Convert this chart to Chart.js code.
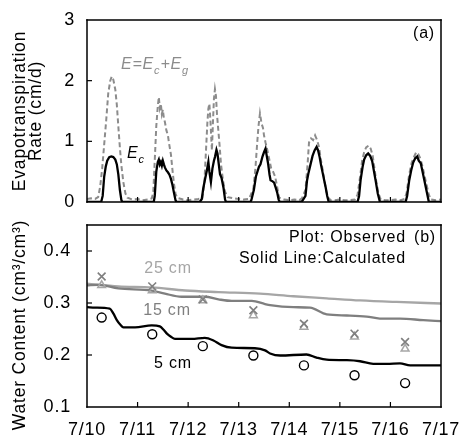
<!DOCTYPE html>
<html><head><meta charset="utf-8">
<script src="https://cdn.jsdelivr.net/npm/chart.js@4.4.1/dist/chart.umd.min.js"></script>
<style>
html,body{margin:0;padding:0;background:#fff;}
#wrap{position:relative;width:459px;height:443px;overflow:hidden;background:#fff;}
canvas{position:absolute;left:0;}
#c1{top:0;} #c2{top:215px;}
</style></head><body>
<div id="wrap"><canvas id="c1" width="459" height="215"></canvas><canvas id="c2" width="459" height="228"></canvas></div>
<script>
// ---------- data ----------
const dateLabels = ['7/10','7/11','7/12','7/13','7/14','7/15','7/16','7/17'];
const dayTicks = [0,1,2,3,4,5,6,7];
const etTicks = [0,1,2,3];
const wcTicks = [0.1,0.2,0.3,0.4];

// E = Ec + Eg  [day offset from 7/10 0:00, cm/d]
const etTotal = [[0.00,0.05],[0.08,0.06],[0.16,0.05],[0.22,0.08],[0.26,0.25],[0.30,0.55],[0.34,0.95],[0.38,1.35],[0.42,1.79],[0.46,2.00],[0.49,2.07],[0.52,2.02],[0.56,1.85],[0.59,1.60],[0.62,1.24],[0.65,0.90],[0.68,0.60],[0.72,0.32],[0.76,0.14],[0.80,0.07],[0.90,0.04],[1.00,0.05],[1.10,0.03],[1.20,0.04],[1.28,0.06],
[1.31,0.15],[1.34,0.69],[1.37,1.25],[1.40,1.58],[1.42,1.73],[1.44,1.55],[1.46,1.62],[1.48,1.45],[1.50,1.52],[1.52,1.38],[1.54,1.32],[1.57,1.18],[1.60,1.10],[1.62,0.98],[1.64,0.88],[1.66,0.78],[1.69,0.53],[1.72,0.30],[1.75,0.14],[1.78,0.07],[1.90,0.04],[2.00,0.03],[2.10,0.04],[2.20,0.05],
[2.28,0.06],[2.32,0.30],[2.35,0.80],[2.38,1.30],[2.40,1.54],[2.42,1.62],[2.44,1.35],[2.47,0.85],[2.49,1.30],[2.51,1.70],[2.53,1.86],[2.55,1.75],[2.57,1.45],[2.60,1.15],[2.62,0.95],[2.65,0.62],[2.69,0.35],[2.73,0.17],[2.78,0.08],[2.90,0.06],[3.00,0.05],[3.10,0.04],[3.20,0.05],
[3.24,0.12],[3.29,0.22],[3.33,0.55],[3.36,0.91],[3.39,1.24],[3.42,1.46],[3.45,1.30],[3.48,1.22],[3.50,1.10],[3.53,0.98],[3.56,0.88],[3.60,0.72],[3.64,0.56],[3.68,0.50],[3.72,0.42],[3.76,0.25],[3.80,0.07],[3.90,0.04],[4.00,0.03],[4.10,0.04],[4.20,0.03],
[4.25,0.06],[4.32,0.20],[4.36,0.60],[4.39,0.98],[4.43,1.05],[4.47,1.02],[4.51,1.10],[4.55,1.02],[4.59,0.90],[4.62,0.72],[4.65,0.58],[4.69,0.38],[4.73,0.18],[4.77,0.07],[4.82,0.03],[4.90,0.03],[5.00,0.04],[5.10,0.03],[5.20,0.03],[5.30,0.04],
[5.35,0.12],[5.40,0.42],[5.44,0.68],[5.48,0.82],[5.52,0.90],[5.57,0.93],[5.61,0.88],[5.65,0.76],[5.69,0.52],[5.72,0.34],[5.76,0.15],[5.81,0.04],[5.90,0.03],[6.00,0.03],[6.10,0.04],[6.20,0.03],[6.28,0.05],
[6.32,0.15],[6.37,0.45],[6.42,0.65],[6.47,0.75],[6.51,0.82],[6.55,0.79],[6.59,0.72],[6.63,0.60],[6.67,0.45],[6.71,0.30],[6.76,0.12],[6.80,0.04],[6.90,0.03],[7.00,0.04]];

// Ec (canopy transpiration)
const etCanopy = [[0.00,0],[0.28,0],[0.31,0.10],[0.34,0.42],[0.37,0.58],[0.40,0.68],[0.44,0.74],[0.48,0.75],[0.52,0.74],[0.56,0.70],[0.59,0.62],[0.62,0.45],[0.65,0.20],[0.68,0.03],[0.70,0],[1.32,0],
[1.34,0.10],[1.37,0.50],[1.40,0.66],[1.42,0.70],[1.44,0.62],[1.46,0.66],[1.48,0.60],[1.50,0.68],[1.52,0.62],[1.54,0.57],[1.57,0.52],[1.60,0.49],[1.63,0.45],[1.66,0.38],[1.69,0.28],[1.72,0.15],[1.75,0.03],[1.77,0],[2.23,0],
[2.27,0.05],[2.30,0.23],[2.34,0.40],[2.37,0.52],[2.40,0.66],[2.42,0.50],[2.45,0.33],[2.48,0.55],[2.51,0.68],[2.53,0.74],[2.56,0.86],[2.58,0.80],[2.60,0.66],[2.63,0.46],[2.66,0.40],[2.70,0.23],[2.73,0.04],[2.75,0],[3.23,0],
[3.25,0.03],[3.30,0.20],[3.34,0.42],[3.37,0.50],[3.40,0.58],[3.43,0.62],[3.47,0.75],[3.50,0.82],[3.53,0.88],[3.55,0.78],[3.58,0.64],[3.61,0.45],[3.63,0.36],[3.67,0.34],[3.70,0.32],[3.73,0.24],[3.76,0.16],[3.79,0.04],[3.81,0],[4.23,0],
[4.26,0.02],[4.32,0.10],[4.35,0.35],[4.38,0.48],[4.42,0.62],[4.46,0.76],[4.50,0.85],[4.54,0.91],[4.57,0.85],[4.60,0.74],[4.63,0.60],[4.66,0.48],[4.69,0.36],[4.72,0.24],[4.75,0.10],[4.78,0],[5.35,0],
[5.38,0.10],[5.41,0.36],[5.45,0.58],[5.48,0.70],[5.52,0.77],[5.56,0.80],[5.60,0.76],[5.64,0.67],[5.68,0.48],[5.71,0.34],[5.75,0.14],[5.79,0.01],[5.80,0],[6.30,0],
[6.33,0.10],[6.37,0.35],[6.41,0.52],[6.45,0.65],[6.49,0.72],[6.53,0.75],[6.56,0.68],[6.60,0.64],[6.64,0.48],[6.68,0.32],[6.72,0.16],[6.76,0],[7.00,0]];

// Calculated water content
const calc5 = [[0.00,0.292],[0.16,0.291],[0.45,0.289],[0.52,0.280],[0.59,0.267],[0.66,0.258],[0.72,0.253],[0.95,0.253],[1.28,0.257],[1.44,0.255],[1.52,0.248],[1.58,0.241],[1.66,0.235],[1.74,0.231],[2.07,0.231],[2.33,0.233],[2.50,0.228],[2.66,0.219],[2.86,0.214],[3.32,0.213],[3.52,0.209],[3.62,0.203],[3.82,0.199],[4.34,0.201],[4.54,0.195],[4.74,0.191],[5.14,0.190],[5.40,0.188],[5.66,0.183],[5.93,0.183],[6.19,0.184],[6.39,0.180],[7.00,0.180]];
const calc15 = [[0.00,0.334],[0.22,0.335],[0.62,0.328],[1.28,0.324],[1.54,0.318],[1.87,0.312],[2.33,0.312],[2.60,0.307],[2.86,0.304],[3.26,0.304],[3.52,0.298],[3.62,0.296],[4.08,0.292],[4.41,0.291],[4.74,0.278],[5.14,0.276],[5.53,0.274],[5.79,0.270],[6.19,0.270],[6.65,0.267],[7.00,0.265]];
const calc25 = [[0.00,0.337],[0.62,0.332],[1.28,0.330],[1.94,0.324],[2.60,0.321],[3.42,0.318],[4.08,0.313],[4.74,0.309],[5.40,0.305],[6.12,0.302],[7.00,0.299]];

// Observed water content
const obsTime = [0.29,1.29,2.29,3.29,4.29,5.29,6.29];
const obs5  = [0.272,0.240,0.217,0.199,0.180,0.161,0.146];
const obs15 = [0.334,0.324,0.305,0.276,0.254,0.235,0.212];
const obs25 = [0.351,0.332,0.307,0.286,0.260,0.241,0.225];

// ---------- helpers ----------
const FONT = '"Liberation Sans", Arial, sans-serif';
Chart.defaults.font.family = FONT;
Chart.defaults.font.size = 18;
Chart.defaults.color = '#000';
const pairs = a => a.map(p => ({x:p[0], y:p[1]}));
const pts = (t, v) => t.map((x,i) => ({x, y:v[i]}));

function drawRich(ctx, parts, x, y, size, color, italic){
  ctx.fillStyle = color; ctx.textAlign = 'left'; ctx.textBaseline = 'alphabetic';
  let cx = x;
  parts.forEach(p => {
    const s = p.sub ? Math.round(size*0.68) : size;
    ctx.font = (italic ? 'italic ' : '') + s + 'px ' + FONT;
    ctx.fillText(p.t, cx, y + (p.sub ? size*0.3 : 0));
    cx += ctx.measureText(p.t).width;
  });
}
function drawText(ctx, t, x, y, size, color, align){
  ctx.font = size + 'px ' + FONT; ctx.fillStyle = color;
  ctx.textAlign = align; ctx.textBaseline = 'middle';
  ctx.fillText(t, x, y);
}
function drawVText(ctx, t, x, y, size, color){
  ctx.save(); ctx.translate(x, y); ctx.rotate(-Math.PI/2);
  drawText(ctx, t, 0, 0, size, color, 'center'); ctx.restore();
}
// frame + inward tick marks, drawn as filled strips at scale positions
function drawFrame(chart, yInner){
  const ctx = chart.ctx, a = chart.chartArea, x = chart.scales.x, y = chart.scales.y;
  const L = Math.round(a.left), R = Math.round(a.right), T = Math.round(a.top), B = Math.round(a.bottom);
  const w = 1.5;
  ctx.save();
  ctx.fillStyle = '#000';
  ctx.fillRect(L - w/2, T - w/2, R - L + w, w);
  ctx.fillRect(L - w/2, B - w/2, R - L + w, w);
  ctx.fillRect(L - w/2, T - w/2, w, B - T + w);
  ctx.fillRect(R - w/2, T - w/2, w, B - T + w);
  dayTicks.slice(1, -1).forEach(v => { const px = x.getPixelForValue(v); ctx.fillRect(px - 0.6, B - 5, 1.2, 5); });
  yInner.forEach(v => { const py = y.getPixelForValue(v); ctx.fillRect(L, py - 0.6, 5, 1.2); });
  ctx.restore();
}
const zeroPad = s => { s.paddingLeft = 0; s.paddingRight = 0; s.paddingTop = 0; s.paddingBottom = 0; };
const spacingPlugin = { id:'letterSp', beforeDraw(chart){ chart.ctx.letterSpacing = '0.8px'; } };

const baseX = (showLabels, h) => ({
  type:'linear', min:0, max:7,
  grid:{display:false, drawTicks:false}, border:{display:false},
  ticks:{display:showLabels, padding:12, maxRotation:0, autoSkip:false, color:'#000',
    callback: v => dateLabels[Math.round(v)]},
  afterBuildTicks: s => { s.ticks = dayTicks.map(v => ({value:v})); },
  afterFit: s => { s.height = h; zeroPad(s); }
});

// ---------- (a) evapotranspiration ----------
new Chart(document.getElementById('c1'), {
  type:'line',
  data:{datasets:[
    {label:'Ec', data:pairs(etCanopy), borderColor:'#000', borderWidth:2.3, pointRadius:0, tension:0},
    {label:'E', data:pairs(etTotal), borderColor:'#8c8c8c', borderWidth:2, borderDash:[5,3], pointRadius:0, tension:0}
  ]},
  options:{
    responsive:false, animation:false, events:[],
    layout:{padding:{left:0, right:18, top:20, bottom:0}},
    plugins:{legend:{display:false}, tooltip:{enabled:false}},
    scales:{
      x: baseX(false, 13),
      y:{min:0, max:3, grid:{display:false, drawTicks:false}, border:{display:false},
        ticks:{padding:12, color:'#000'},
        afterBuildTicks: s => { s.ticks = etTicks.map(v => ({value:v})); },
        afterFit: s => { s.width = 87; zeroPad(s); }}
    }
  },
  plugins:[spacingPlugin, {id:'decorA', afterDraw(chart){
    const ctx = chart.ctx; ctx.save();
    drawVText(ctx, 'Evapotranspiration', 20, 111, 17.5, '#000');
    drawVText(ctx, 'Rate (cm/d)', 36, 111, 17.5, '#000');
    drawText(ctx, '(a)', 424, 34, 16, '#000', 'center');
    drawRich(ctx, [{t:'E'},{t:'='},{t:'E'},{t:'c',sub:true},{t:'+'},{t:'E'},{t:'g',sub:true}], 121, 69, 16, '#8c8c8c', true);
    drawRich(ctx, [{t:'E'},{t:'c',sub:true}], 127, 158, 16, '#000', true);
    ctx.restore();
    drawFrame(chart, [1,2]);
  }}]
});

// ---------- (b) water content ----------
new Chart(document.getElementById('c2'), {
  type:'line',
  data:{datasets:[
    {label:'obs25', data:pts(obsTime, obs25), showLine:false, pointStyle:'crossRot', pointRadius:5.5, borderColor:'#7f7f7f', borderWidth:1.6, backgroundColor:'transparent'},
    {label:'obs15', data:pts(obsTime, obs15), showLine:false, pointStyle:'triangle', pointRadius:4.5, borderColor:'#a6a6a6', borderWidth:1.5, backgroundColor:'transparent'},
    {label:'obs5', data:pts(obsTime, obs5), showLine:false, pointStyle:'circle', pointRadius:4.5, borderColor:'#000', borderWidth:1.4, backgroundColor:'transparent'},
    {label:'calc5', data:pairs(calc5), borderColor:'#000', borderWidth:2.3, pointRadius:0, cubicInterpolationMode:'monotone'},
    {label:'calc15', data:pairs(calc15), borderColor:'#7f7f7f', borderWidth:2.3, pointRadius:0, cubicInterpolationMode:'monotone'},
    {label:'calc25', data:pairs(calc25), borderColor:'#a6a6a6', borderWidth:2.3, pointRadius:0, cubicInterpolationMode:'monotone'}
  ]},
  options:{
    responsive:false, animation:false, events:[],
    layout:{padding:{left:0, right:18, top:10, bottom:0}},
    plugins:{legend:{display:false}, tooltip:{enabled:false}},
    scales:{
      x: baseX(true, 36),
      y:{min:0.1, max:0.45, grid:{display:false, drawTicks:false}, border:{display:false},
        ticks:{padding:16, color:'#000', callback: v => v.toFixed(1)},
        afterBuildTicks: s => { s.ticks = wcTicks.map(v => ({value:v})); },
        afterFit: s => { s.width = 87; zeroPad(s); }}
    }
  },
  plugins:[spacingPlugin, {id:'decorB', afterDraw(chart){
    const ctx = chart.ctx; ctx.save();
    drawVText(ctx, 'Water Content (cm³/cm³)', 20, 110, 17.5, '#000');
    drawText(ctx, 'Plot: Observed', 406, 23, 16, '#000', 'right');
    drawText(ctx, '(b)', 425, 23, 16, '#000', 'center');
    drawText(ctx, 'Solid Line:Calculated', 406, 44, 16, '#000', 'right');
    drawText(ctx, '25 cm', 168, 54, 16, '#a6a6a6', 'center');
    drawText(ctx, '15 cm', 167, 96, 16, '#7f7f7f', 'center');
    drawText(ctx, '5 cm', 173, 149, 16, '#000', 'center');
    ctx.restore();
    drawFrame(chart, [0.2,0.3,0.4]);
  }}]
});
</script>
</body></html>
